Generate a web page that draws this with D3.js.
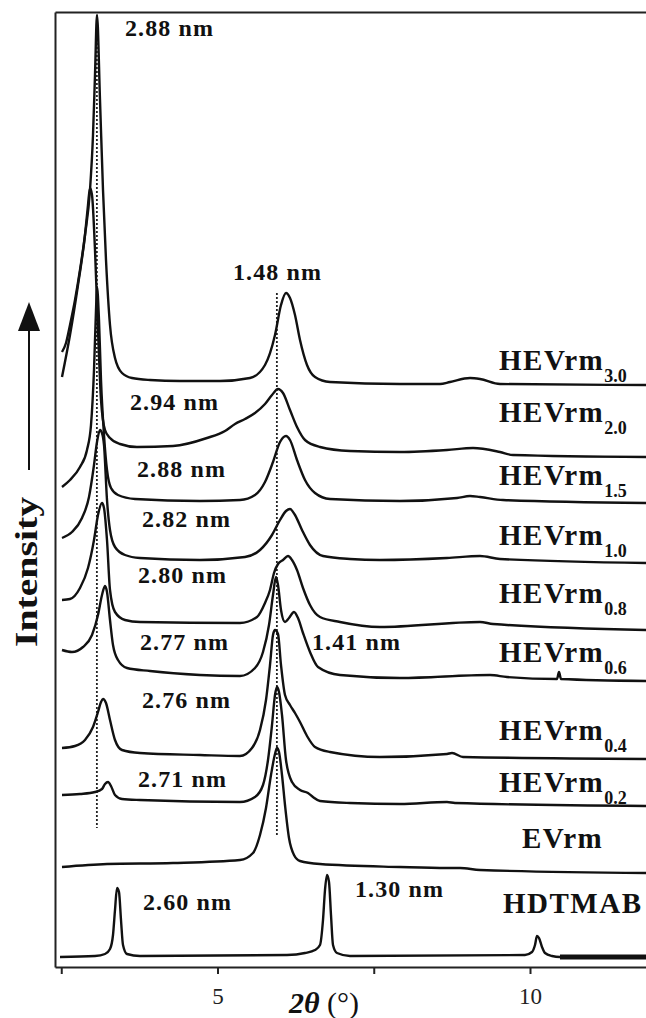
<!DOCTYPE html>
<html>
<head>
<meta charset="utf-8">
<script src="https://cdn.jsdelivr.net/npm/d3@7"></script>
<style>
body { margin: 0; background: #fff; }
svg { display: block; font-family: "Liberation Serif", "Times New Roman", serif; }
.axis path, .axis line { stroke: #222; stroke-width: 2; }
.axis text { font-size: 23px; fill: #222; font-family: "Liberation Serif", "Times New Roman", serif; }
.curve { fill: none; stroke: #111; stroke-width: 2.4; stroke-linejoin: round; }
.guide { stroke: #222; stroke-width: 1.8; stroke-dasharray: 2,2; }
.peak { font-size: 24px; font-weight: bold; fill: #111; }
.sample { font-size: 29px; font-weight: bold; fill: #111; letter-spacing: 1.5px; }
</style>
</head>
<body>
<script>
/* --------------------------------------------------------------------
Data. Each pattern is a list of [2theta, counts]
where counts are measured above that pattern's own stacking offset.
----------------------------------------------------------------------*/
var sampleNames = ["HEVrm", "HEVrm", "HEVrm", "HEVrm", "HEVrm", "HEVrm", "HEVrm", "HEVrm", "EVrm", "HDTMAB"];
var sampleSubs = ["3.0", "2.0", "1.5", "1.0", "0.8", "0.6", "0.4", "0.2", "", ""];
var offsets = [582, 512, 465, 405, 339, 287, 209, 162, 95, 10];

var hevrm30 = [[2.512,33],[2.576,42],[2.64,60],[2.72,85],[2.8,115],[2.88,150],[2.96,195],[3.008,250],[3.04,310],[3.072,370],
    [3.12,285],[3.168,195],[3.216,125],[3.28,60],[3.36,27],[3.472,12],[3.632,7],[3.92,5],[4.4,4],[5.04,4],[5.52,7],[5.76,20],
    [5.92,50],[6.016,80],[6.096,92],[6.16,87],[6.24,70],[6.32,45],[6.432,20],[6.56,8],[6.8,3],[7.92,1],[8.56,1],[8.72,3],
    [9.04,7],[9.2,6],[9.52,1],[11.856,0]];
var hevrm20 = [[2.512,78],[2.64,120],[2.768,170],[2.88,220],[2.928,250],[2.96,267],[2.992,260],[3.04,205],[3.088,125],
    [3.136,55],[3.2,25],[3.28,17],[3.44,11],[3.712,8],[4.288,9],[4.832,17],[5.12,24],[5.28,31],[5.44,36],[5.6,42],
    [5.76,51],[5.872,60],[5.968,66],[6.048,62],[6.16,45],[6.272,28],[6.4,15],[6.64,8],[7.12,4],[7.92,3],[8.672,5],[9.088,7],
    [9.52,3],[9.728,0],[11.856,-2]];
var hevrm15 = [[2.512,15],[2.64,22],[2.8,35],[2.912,52],[2.976,77],[3.024,132],[3.056,192],[3.072,215],[3.104,182],
    [3.136,122],[3.184,67],[3.232,32],[3.296,14],[3.408,7],[3.68,3],[4.72,1],[5.36,2],[5.6,7],[5.76,20],[5.888,40],[6.0,60],
    [6.096,66],[6.16,62],[6.272,42],[6.4,22],[6.56,9],[6.8,3],[7.92,1],[8.832,4],[9.04,6],[9.2,5],[9.568,2],[11.856,-1]];
var hevrm10 = [[2.512,24],[2.672,30],[2.832,44],[2.944,65],[3.024,97],[3.072,120],[3.12,132],[3.152,129],[3.184,117],
    [3.232,62],[3.28,32],[3.36,15],[3.52,7],[3.76,4],[4.72,2],[5.44,5],[5.68,12],[5.872,27],[6.0,42],[6.096,51],[6.16,53],
    [6.24,47],[6.352,32],[6.48,17],[6.688,6],[7.12,3],[7.6,2],[8.672,4],[9.2,6],[9.52,3],[11.856,-1]];
var hevrm08 = [[2.512,28],[2.64,29],[2.8,40],[2.928,60],[3.024,88],[3.088,113],[3.152,125],[3.184,120],[3.232,88],
    [3.28,38],[3.36,16],[3.52,8],[3.76,6],[5.36,5],[5.632,11],[5.76,25],[5.84,38],[5.904,55],[5.968,64],[6.048,68],[6.128,72],
    [6.192,68],[6.272,58],[6.368,40],[6.48,23],[6.64,11],[6.96,6],[7.6,1],[9.2,6],[9.408,4],[11.856,-2]];
var hevrm06 = [[2.512,30],[2.672,28],[2.848,33],[2.992,45],[3.088,65],[3.152,85],[3.2,94],[3.232,88],[3.28,60],[3.328,35],
    [3.408,20],[3.552,12],[3.92,9],[4.72,5],[5.36,4],[5.6,12],[5.728,28],[5.824,55],[5.888,85],[5.936,103],[5.968,95],
    [6.016,70],[6.08,58],[6.144,62],[6.224,68],[6.288,62],[6.368,47],[6.48,28],[6.608,13],[6.96,5],[7.92,2],[9.36,5],
    [9.632,3],[10.432,1],[10.464,8],[10.496,1],[11.856,-1]];
var hevrm04 = [[2.512,10],[2.72,12],[2.88,18],[3.008,31],[3.088,46],[3.136,56],[3.168,59],[3.216,55],[3.28,38],[3.36,18],
    [3.472,8],[3.76,5],[4.72,3],[5.36,2],[5.552,10],[5.68,28],[5.776,58],[5.84,93],[5.888,123],[5.92,128],[5.968,124],
    [6.016,93],[6.08,63],[6.16,53],[6.24,45],[6.32,36],[6.432,22],[6.56,11],[6.8,6],[7.6,1],[8.672,4],[8.752,5],[8.928,1],
    [11.856,-1]];
var hevrm02 = [[2.512,10],[2.8,11],[3.04,13],[3.152,16],[3.2,21],[3.248,23],[3.296,19],[3.36,10],[3.472,6],[3.76,5],
    [5.36,3],[5.6,8],[5.728,20],[5.808,45],[5.872,80],[5.92,110],[5.952,118],[5.984,113],[6.032,90],[6.096,45],[6.192,23],
    [6.32,15],[6.448,12],[6.528,8],[6.64,4],[7.12,2],[7.92,1],[8.672,3],[8.8,2],[11.856,-1]];
var evrm = [[2.512,5],[3.232,8],[4.288,9],[5.36,12],[5.568,19],[5.68,37],[5.776,64],[5.856,97],[5.92,118],[5.952,124],
    [5.984,120],[6.032,97],[6.08,67],[6.144,34],[6.224,17],[6.32,11],[6.64,8],[7.92,5],[8.672,4],[8.88,4],[9.2,2],[11.856,-1]];
var hdtmab = [[2.48,0],[3.04,1],[3.2,3],[3.28,8],[3.328,22],[3.36,47],[3.392,69],[3.424,65],[3.456,37],[3.488,12],
    [3.552,3],[3.76,1],[6.112,2],[6.4,4],[6.56,7],[6.64,12],[6.688,37],[6.72,67],[6.752,82],[6.784,75],[6.816,42],
    [6.848,12],[6.912,4],[7.12,1],[9.92,2],[10.032,5],[10.08,12],[10.112,21],[10.144,19],[10.192,10],[10.24,4],[10.352,1],
    [10.48,0],[11.856,0]];
var patterns = [hevrm30, hevrm20, hevrm15, hevrm10, hevrm08, hevrm06, hevrm04, hevrm02, evrm, hdtmab];

// d-spacing guide lines: [2theta, top, bottom] in counts
var guideLines = [[3.07, 952, 139], [5.95, 674, 132]];

var peakLabels = ["2.88 nm", "1.48 nm", "2.94 nm", "2.88 nm", "2.82 nm", "2.80 nm", "2.77 nm", "1.41 nm",
    "2.76 nm", "2.71 nm", "2.60 nm", "1.30 nm"];
var peakLabelAt = [[3.52,931],[5.248,687],[3.6,557],[3.712,490],[3.792,440],[3.728,384],[3.76,317],[6.512,317],
    [3.792,259],[3.728,180],[3.808,57],[7.2,70]];
var sampleLabelAt = [[9.504,597],[9.504,545],[9.504,482],[9.504,422],[9.504,364],[9.504,305],[9.504,227],[9.504,175],
    [9.872,119],[9.568,54]];

var xTicks = [2.5, 5, 7.5, 10];
var xTickLabels = ["", "5", "", "10"];

/* --------------------------------------------------------------------
Margins and svg.
----------------------------------------------------------------------*/
var margin = {top: 12, right: 0, bottom: 51, left: 55},
    width = 646 - margin.left - margin.right,
    height = 1018 - margin.top - margin.bottom;

var root = d3.select("body")
    .append("svg")
    .attr("width", 646)
    .attr("height", 1018);

var svg = root.append("g")
    .attr("transform", "translate(" + margin.left + "," + margin.top + ")");

var xScale = d3.scaleLinear().domain([2.4, 12]).range([0, 600]);
var yScale = d3.scaleLinear().domain([0, 955]).range([height, 0]);

var line = d3.line()
    .curve(d3.curveMonotoneX)
    .x(function(d) { return xScale(d[0]); })
    .y(function(d) { return yScale(d[1] + d.offset); });

function shifted(points, off) {
    return points.map(function(p) { var q = p.slice(); q.offset = off; return q; });
}

/* --------------------------------------------------------------------
Frame: bottom axis with ticks, bare left and top lines.
----------------------------------------------------------------------*/
svg.append("g")
    .attr("class", "x axis")
    .attr("transform", "translate(0," + height + ")")
    .call(d3.axisBottom(xScale)
        .tickValues(xTicks)
        .tickFormat(function(d, i) { return xTickLabels[i]; })
        .tickSize(7)
        .tickSizeOuter(0)
        .tickPadding(14));

svg.append("g")
    .attr("class", "y axis")
    .call(d3.axisLeft(yScale).tickValues([]).tickSizeOuter(0));

svg.append("g")
    .attr("class", "top axis")
    .call(d3.axisTop(xScale).tickValues([]).tickSizeOuter(0));

/* --------------------------------------------------------------------
Dotted guides through the basal reflections.
----------------------------------------------------------------------*/
svg.selectAll(".guide")
    .data(guideLines)
    .enter()
    .append("line")
    .attr("class", "guide")
    .attr("x1", function(d) { return xScale(d[0]); })
    .attr("x2", function(d) { return xScale(d[0]); })
    .attr("y1", function(d) { return yScale(d[1]); })
    .attr("y2", function(d) { return yScale(d[2]); });

/* --------------------------------------------------------------------
Stacked patterns.
----------------------------------------------------------------------*/
svg.selectAll(".curve")
    .data(patterns)
    .enter()
    .append("path")
    .attr("class", "curve")
    .attr("d", function(d, i) { return line(shifted(d, offsets[i])); });

// the dense tail of the HDTMAB trace prints heavier
svg.append("path")
    .attr("class", "curve")
    .style("stroke-width", "5px")
    .attr("d", line(shifted(hdtmab.filter(function(p) { return p[0] >= 10.48; }), offsets[9])));

/* --------------------------------------------------------------------
Labels.
----------------------------------------------------------------------*/
svg.selectAll(".peak")
    .data(peakLabels)
    .enter()
    .append("text")
    .attr("class", "peak")
    .attr("x", function(d, i) { return xScale(peakLabelAt[i][0]); })
    .attr("y", function(d, i) { return yScale(peakLabelAt[i][1]); })
    .attr("textLength", 88)
    .text(function(d) { return d; });

var sample = svg.selectAll(".sample")
    .data(sampleNames)
    .enter()
    .append("text")
    .attr("class", "sample")
    .attr("x", function(d, i) { return xScale(sampleLabelAt[i][0]); })
    .attr("y", function(d, i) { return yScale(sampleLabelAt[i][1]); });

sample.append("tspan").text(function(d) { return d; });
sample.append("tspan")
    .attr("dy", 12)
    .style("font-size", "18px")
    .style("letter-spacing", "0px")
    .text(function(d, i) { return sampleSubs[i]; });

/* --------------------------------------------------------------------
Axis titles and the intensity arrow.
----------------------------------------------------------------------*/
var xTitle = root.append("text")
    .attr("x", 289)
    .attr("y", 1013)
    .style("font-size", "30px")
    .attr("fill", "#111");
xTitle.append("tspan").style("font-weight", "bold").style("font-style", "italic").text("2\u03B8");
xTitle.append("tspan").text(" (\u00B0)");

root.append("text")
    .attr("transform", "translate(37,572) rotate(-90)")
    .attr("text-anchor", "middle")
    .attr("textLength", 150)
    .attr("lengthAdjust", "spacingAndGlyphs")
    .style("font-size", "31px")
    .style("font-weight", "bold")
    .attr("fill", "#111")
    .text("Intensity");

root.append("line")
    .attr("x1", 29).attr("x2", 29)
    .attr("y1", 470).attr("y2", 326)
    .attr("stroke", "#111")
    .attr("stroke-width", 2);

root.append("path")
    .attr("d", "M29,302L40,331L18,331Z")
    .attr("fill", "#111");
</script>
</body>
</html>
